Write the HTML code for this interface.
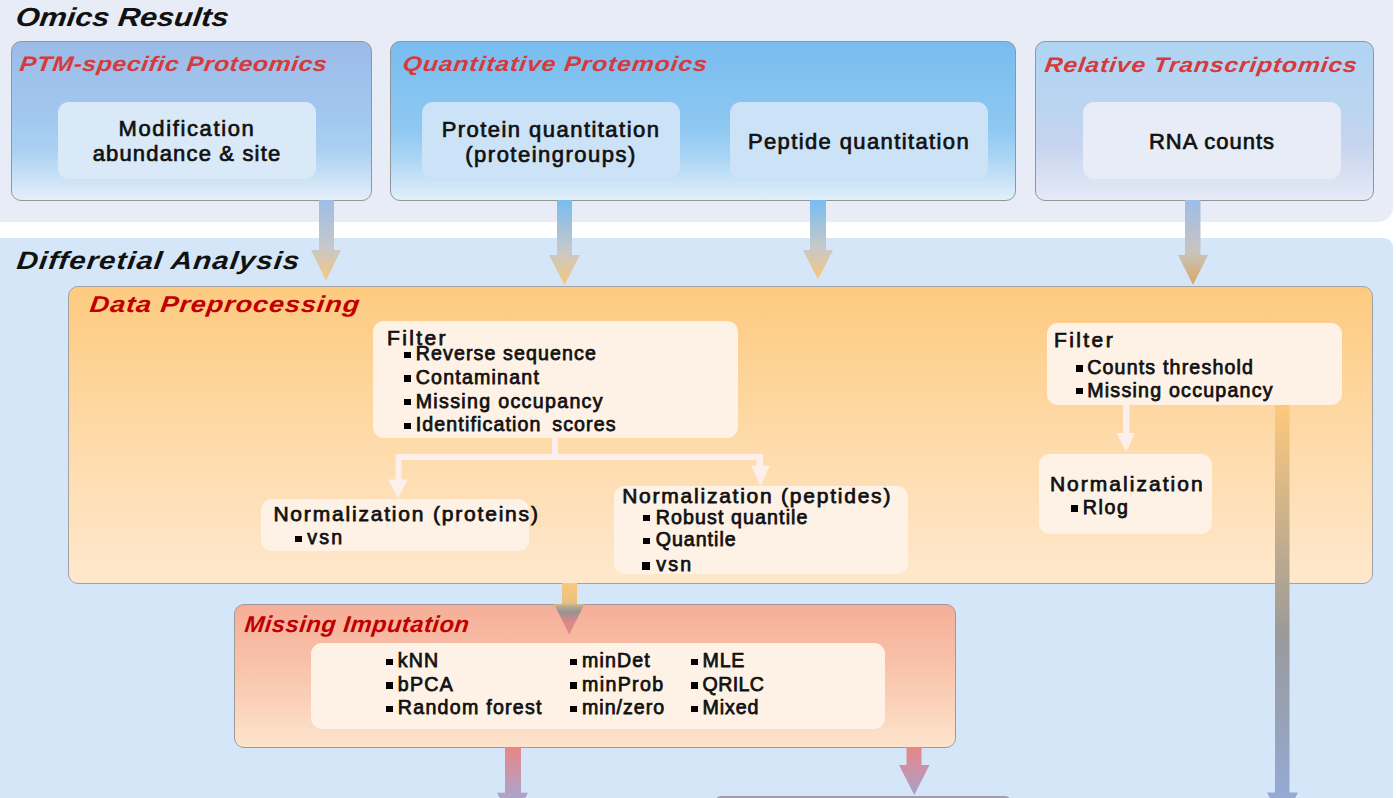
<!DOCTYPE html>
<html><head><meta charset="utf-8">
<style>
html,body{margin:0;padding:0;background:#fff;width:1396px;height:798px;overflow:hidden;position:relative}
body{font-family:"Liberation Sans",sans-serif;color:#111;font-weight:bold}
.b{position:absolute;box-sizing:border-box}
.t{position:absolute;white-space:pre;line-height:1}
.sq{position:absolute;background:#000}
svg{position:absolute;left:0;top:0}
</style></head><body>
<div class="b" style="left:0px;top:0px;width:1393px;height:222px;background:#e8ecf6;border-bottom-right-radius:15px"></div>
<div class="b" style="left:0px;top:238px;width:1393px;height:592px;background:#d4e6f7;border-top-right-radius:9px"></div>
<div class="b" style="left:11px;top:41px;width:361px;height:160px;border:1.7px solid #959595;border-radius:10px;background:linear-gradient(#9bbbe7 0%,#a3c9f0 50%,#a9d0f3 68%,#e4eff9 100%)"></div>
<div class="b" style="left:390px;top:41px;width:626px;height:160px;border:1.7px solid #959595;border-radius:10px;background:linear-gradient(#78bcef 0%,#8ec8f1 55%,#a8d4f4 72%,#e2effa 100%)"></div>
<div class="b" style="left:1035px;top:41px;width:339px;height:160px;border:1.7px solid #959595;border-radius:10px;background:linear-gradient(#afd4f3 0%,#bcd5f0 45%,#c6d4ef 65%,#e6eaf6 100%)"></div>
<div class="b" style="left:58px;top:102px;width:258px;height:77px;border-radius:11px;background:#d9e9f8"></div>
<div class="b" style="left:422px;top:102px;width:258px;height:77px;border-radius:11px;background:#cce2f7"></div>
<div class="b" style="left:730px;top:102px;width:258px;height:77px;border-radius:11px;background:#cce2f7"></div>
<div class="b" style="left:1083px;top:102px;width:258px;height:77px;border-radius:11px;background:#e8ecf6"></div>
<div class="t" style="left:15.3px;top:4.0px;font-size:26px;transform:scaleX(1.18) skewX(-6deg);transform-origin:0 22.0px;font-style:italic;letter-spacing:-0.026px;">Omics Results</div>
<div class="t" style="left:19px;top:53.4px;font-size:21px;transform:scaleX(1.18) skewX(-6deg);transform-origin:0 17.8px;font-style:italic;letter-spacing:0.481px;color:#d63a3a;">PTM-specific Proteomics</div>
<div class="t" style="left:401.8px;top:52.9px;font-size:21px;transform:scaleX(1.18) skewX(-6deg);transform-origin:0 17.8px;font-style:italic;letter-spacing:0.743px;color:#d63a3a;">Quantitative Protemoics</div>
<div class="t" style="left:1043.8px;top:53.5px;font-size:21px;transform:scaleX(1.18) skewX(-6deg);transform-origin:0 17.8px;font-style:italic;letter-spacing:0.656px;color:#d63a3a;">Relative Transcriptomics</div>
<div class="t" style="left:58px;width:258px;text-align:center;top:118.2px;font-size:22px;font-weight:normal;-webkit-text-stroke:0.7px #111;letter-spacing:1.635px;">Modification</div>
<div class="t" style="left:58px;width:258px;text-align:center;top:143.2px;font-size:22px;font-weight:normal;-webkit-text-stroke:0.7px #111;letter-spacing:1.168px;">abundance &amp; site</div>
<div class="t" style="left:422px;width:258px;text-align:center;top:118.9px;font-size:22px;font-weight:normal;-webkit-text-stroke:0.7px #111;letter-spacing:1.457px;">Protein quantitation</div>
<div class="t" style="left:422px;width:258px;text-align:center;top:143.9px;font-size:22px;font-weight:normal;-webkit-text-stroke:0.7px #111;letter-spacing:1.481px;">(proteingroups)</div>
<div class="t" style="left:730px;width:258px;text-align:center;top:130.9px;font-size:22px;font-weight:normal;-webkit-text-stroke:0.7px #111;letter-spacing:1.382px;">Peptide quantitation</div>
<div class="t" style="left:1083px;width:258px;text-align:center;top:131.0px;font-size:22px;font-weight:normal;-webkit-text-stroke:0.7px #111;letter-spacing:0.990px;">RNA counts</div>
<div class="b" style="left:68px;top:286px;width:1305px;height:298px;border:1.5px solid #a2a2a2;border-radius:10px;background:linear-gradient(#fdca80 0%,#fedaa8 50%,#fee8cd 100%)"></div>
<div class="b" style="left:373px;top:321px;width:365px;height:117px;border-radius:11px;background:#fef2e6;"></div>
<div class="b" style="left:1047px;top:323px;width:295px;height:82px;border-radius:11px;background:#fef2e6;"></div>
<div class="b" style="left:261px;top:499px;width:268px;height:52px;border-radius:11px;background:#fef2e6;"></div>
<div class="b" style="left:614px;top:486px;width:294px;height:88px;border-radius:11px;background:#fef2e6;"></div>
<div class="b" style="left:1039px;top:454px;width:173px;height:80px;border-radius:11px;background:#fef2e6;"></div>
<div class="t" style="left:16.2px;top:247.8px;font-size:25px;transform:scaleX(1.18) skewX(-6deg);transform-origin:0 21.2px;font-style:italic;letter-spacing:0.823px;">Differetial Analysis</div>
<div class="t" style="left:88.6px;top:292.7px;font-size:23px;transform:scaleX(1.18) skewX(-6deg);transform-origin:0 19.5px;font-style:italic;letter-spacing:0.725px;color:#c00000;">Data Preprocessing</div>
<div class="t" style="left:387px;top:327.0px;font-size:21px;font-weight:normal;-webkit-text-stroke:0.75px #111;letter-spacing:2.356px;">Filter</div>
<div class="sq" style="left:404px;top:351.6px;width:7px;height:6.5px"></div>
<div class="t" style="left:415.7px;top:344.4px;font-size:19.6px;font-weight:normal;-webkit-text-stroke:0.75px #111;letter-spacing:1.115px;">Reverse sequence</div>
<div class="sq" style="left:404px;top:375.0px;width:7px;height:6.5px"></div>
<div class="t" style="left:415.7px;top:367.8px;font-size:19.6px;font-weight:normal;-webkit-text-stroke:0.75px #111;letter-spacing:1.208px;">Contaminant</div>
<div class="sq" style="left:404px;top:398.7px;width:7px;height:6.5px"></div>
<div class="t" style="left:415.7px;top:391.5px;font-size:19.6px;font-weight:normal;-webkit-text-stroke:0.75px #111;letter-spacing:1.332px;">Missing occupancy</div>
<div class="sq" style="left:404px;top:422.5px;width:7px;height:6.5px"></div>
<div class="t" style="left:415.7px;top:415.3px;font-size:19.6px;font-weight:normal;-webkit-text-stroke:0.75px #111;letter-spacing:1.138px;">Identification <span style="margin-left:4px"></span>scores</div>
<div class="t" style="left:1054px;top:329.0px;font-size:21px;font-weight:normal;-webkit-text-stroke:0.75px #111;letter-spacing:2.396px;">Filter</div>
<div class="sq" style="left:1076px;top:365.0px;width:7px;height:6.5px"></div>
<div class="t" style="left:1087.2px;top:357.8px;font-size:19.6px;font-weight:normal;-webkit-text-stroke:0.75px #111;letter-spacing:1.178px;">Counts threshold</div>
<div class="sq" style="left:1076px;top:387.8px;width:7px;height:6.5px"></div>
<div class="t" style="left:1087.2px;top:380.6px;font-size:19.6px;font-weight:normal;-webkit-text-stroke:0.75px #111;letter-spacing:1.242px;">Missing occupancy</div>
<div class="t" style="left:273.4px;top:502.5px;font-size:21px;font-weight:normal;-webkit-text-stroke:0.75px #111;letter-spacing:1.809px;">Normalization (proteins)</div>
<div class="sq" style="left:294.5px;top:535.5px;width:7px;height:6.5px"></div>
<div class="t" style="left:307.2px;top:528.3px;font-size:19.6px;font-weight:normal;-webkit-text-stroke:0.75px #111;letter-spacing:2.183px;">vsn</div>
<div class="t" style="left:622.2px;top:484.5px;font-size:21px;font-weight:normal;-webkit-text-stroke:0.75px #111;letter-spacing:1.765px;">Normalization (peptides)</div>
<div class="sq" style="left:643px;top:514.7px;width:7px;height:6.5px"></div>
<div class="t" style="left:655.7px;top:507.5px;font-size:19.6px;font-weight:normal;-webkit-text-stroke:0.75px #111;letter-spacing:1.115px;">Robust quantile</div>
<div class="sq" style="left:643px;top:537.6px;width:7px;height:6.5px"></div>
<div class="t" style="left:655.7px;top:530.4px;font-size:19.6px;font-weight:normal;-webkit-text-stroke:0.75px #111;letter-spacing:1.001px;">Quantile</div>
<div class="sq" style="left:641.5px;top:562.0px;width:8.5px;height:8.0px"></div>
<div class="t" style="left:656.2px;top:554.8px;font-size:19.6px;font-weight:normal;-webkit-text-stroke:0.75px #111;letter-spacing:2.183px;">vsn</div>
<div class="t" style="left:1049.9px;top:473.4px;font-size:21px;font-weight:normal;-webkit-text-stroke:0.75px #111;letter-spacing:2.024px;">Normalization</div>
<div class="sq" style="left:1071px;top:505.3px;width:7px;height:6.5px"></div>
<div class="t" style="left:1082.8px;top:498.1px;font-size:19.6px;font-weight:normal;-webkit-text-stroke:0.75px #111;letter-spacing:1.573px;">Rlog</div>
<div class="b" style="left:234px;top:604px;width:722px;height:143.5px;border:1.5px solid #9c9c9c;border-radius:10px;background:linear-gradient(#f6ae98 0%,#f9c6ae 50%,#fde4cc 100%)"></div>
<div class="b" style="left:311px;top:643px;width:574px;height:86px;border-radius:11px;background:#fef2e6;"></div>
<div class="t" style="left:244.4px;top:612.8px;font-size:23px;transform:scaleX(1.03) skewX(-6deg);transform-origin:0 19.5px;font-style:italic;letter-spacing:0.482px;color:#c00000;">Missing Imputation</div>
<div class="sq" style="left:386px;top:658.5px;width:7px;height:6.5px"></div>
<div class="t" style="left:397.8px;top:651.3px;font-size:19.6px;font-weight:normal;-webkit-text-stroke:0.75px #111;letter-spacing:1.171px;">kNN</div>
<div class="sq" style="left:570px;top:658.5px;width:7px;height:6.5px"></div>
<div class="t" style="left:582px;top:651.3px;font-size:19.6px;font-weight:normal;-webkit-text-stroke:0.75px #111;letter-spacing:1.141px;">minDet</div>
<div class="sq" style="left:690.5px;top:658.5px;width:7px;height:6.5px"></div>
<div class="t" style="left:702.6px;top:651.3px;font-size:19.6px;font-weight:normal;-webkit-text-stroke:0.75px #111;letter-spacing:0.758px;">MLE</div>
<div class="sq" style="left:386px;top:682.0px;width:7px;height:6.5px"></div>
<div class="t" style="left:397.8px;top:674.8px;font-size:19.6px;font-weight:normal;-webkit-text-stroke:0.75px #111;letter-spacing:1.303px;">bPCA</div>
<div class="sq" style="left:570px;top:682.0px;width:7px;height:6.5px"></div>
<div class="t" style="left:582px;top:674.8px;font-size:19.6px;font-weight:normal;-webkit-text-stroke:0.75px #111;letter-spacing:1.355px;">minProb</div>
<div class="sq" style="left:690.5px;top:682.0px;width:7px;height:6.5px"></div>
<div class="t" style="left:702.6px;top:674.8px;font-size:19.6px;font-weight:normal;-webkit-text-stroke:0.75px #111;letter-spacing:0.379px;">QRILC</div>
<div class="sq" style="left:386px;top:705.5px;width:7px;height:6.5px"></div>
<div class="t" style="left:397.8px;top:698.3px;font-size:19.6px;font-weight:normal;-webkit-text-stroke:0.75px #111;letter-spacing:1.268px;">Random forest</div>
<div class="sq" style="left:570px;top:705.5px;width:7px;height:6.5px"></div>
<div class="t" style="left:582px;top:698.3px;font-size:19.6px;font-weight:normal;-webkit-text-stroke:0.75px #111;letter-spacing:1.012px;">min/zero</div>
<div class="sq" style="left:690.5px;top:705.5px;width:7px;height:6.5px"></div>
<div class="t" style="left:702.6px;top:698.3px;font-size:19.6px;font-weight:normal;-webkit-text-stroke:0.75px #111;letter-spacing:0.899px;">Mixed</div>
<div class="b" style="left:715px;top:795.5px;width:296px;height:54.5px;border:2px solid #a09cac;border-radius:6px;background:#b4a9cd"></div>
<svg width="1396" height="798" viewBox="0 0 1396 798"><defs><linearGradient id="g1" gradientUnits="userSpaceOnUse" x1="0" y1="200" x2="0" y2="280.5"><stop offset="0" stop-color="#9dbde8"/><stop offset="0.6" stop-color="#c8c8c8"/><stop offset="1" stop-color="#f6c77c"/></linearGradient><linearGradient id="g2" gradientUnits="userSpaceOnUse" x1="0" y1="200" x2="0" y2="285"><stop offset="0" stop-color="#78bdef"/><stop offset="0.6" stop-color="#c8c8c8"/><stop offset="1" stop-color="#f6c77c"/></linearGradient><linearGradient id="g3" gradientUnits="userSpaceOnUse" x1="0" y1="200" x2="0" y2="279.5"><stop offset="0" stop-color="#78bdef"/><stop offset="0.6" stop-color="#c8c8c8"/><stop offset="1" stop-color="#f6c77c"/></linearGradient><linearGradient id="g4" gradientUnits="userSpaceOnUse" x1="0" y1="200" x2="0" y2="285"><stop offset="0" stop-color="#9dbde8"/><stop offset="0.6" stop-color="#c8c4c0"/><stop offset="1" stop-color="#d9a860"/></linearGradient><linearGradient id="g5" gradientUnits="userSpaceOnUse" x1="0" y1="583" x2="0" y2="634.5"><stop offset="0" stop-color="#fac87c"/><stop offset="0.38" stop-color="#e6c282"/><stop offset="0.46" stop-color="#b8a890"/><stop offset="0.56" stop-color="#969294"/><stop offset="0.76" stop-color="#dc8888"/><stop offset="1" stop-color="#e48888"/></linearGradient><linearGradient id="g6" gradientUnits="userSpaceOnUse" x1="0" y1="747" x2="0" y2="823"><stop offset="0" stop-color="#e88686"/><stop offset="0.62" stop-color="#b0a2c8"/><stop offset="1" stop-color="#a8a4cc"/></linearGradient><linearGradient id="g7" gradientUnits="userSpaceOnUse" x1="0" y1="747" x2="0" y2="795"><stop offset="0" stop-color="#e88686"/><stop offset="1" stop-color="#a9a0cc"/></linearGradient><linearGradient id="g8" gradientUnits="userSpaceOnUse" x1="0" y1="405" x2="0" y2="823"><stop offset="0" stop-color="#fdc97c"/><stop offset="0.55" stop-color="#9a9a9a"/><stop offset="1" stop-color="#94acde"/></linearGradient></defs><path d="M319,200 L334,200 L334,250 L341,250 L326.0,280.5 L311,250 L319,250 Z" fill="url(#g1)"/><path d="M557,200 L572,200 L572,255 L580,255 L564.5,285 L549,255 L557,255 Z" fill="url(#g2)"/><path d="M810,200 L826,200 L826,250 L833,250 L818.0,279.5 L803,250 L810,250 Z" fill="url(#g3)"/><path d="M1185,200 L1200.5,200 L1200.5,255 L1208,255 L1193.0,285 L1178,255 L1185,255 Z" fill="url(#g4)"/><path d="M562,583 L577,583 L577,604 L584.5,604 L569.25,634.5 L554,604 L562,604 Z" fill="url(#g5)"/><path d="M505,747 L521,747 L521,792.7 L528,792.7 L512.5,823 L497,792.7 L505,792.7 Z" fill="url(#g6)"/><path d="M906.5,747 L921.5,747 L921.5,765 L929.5,765 L914.25,795 L899,765 L906.5,765 Z" fill="url(#g7)"/><path d="M1275,405 L1289.5,405 L1289.5,792.5 L1298,792.5 L1282.5,823 L1267,792.5 L1275,792.5 Z" fill="url(#g8)"/><path d="M552,437 L558,437 L558,454 L763,454 L763,465.5 L770,465.5 L760.5,486 L751,465.5 L756.5,465.5 L756.5,460 L401.5,460 L401.5,479.5 L408,479.5 L398,498 L388,479.5 L395.5,479.5 L395.5,454 L552,454 Z" fill="#fdf0ec"/><path d="M1123,405 L1129.5,405 L1129.5,433 L1135,433 L1126,452 L1116.5,433 L1123,433 Z" fill="#fdf0ec"/></svg>
</body></html>
